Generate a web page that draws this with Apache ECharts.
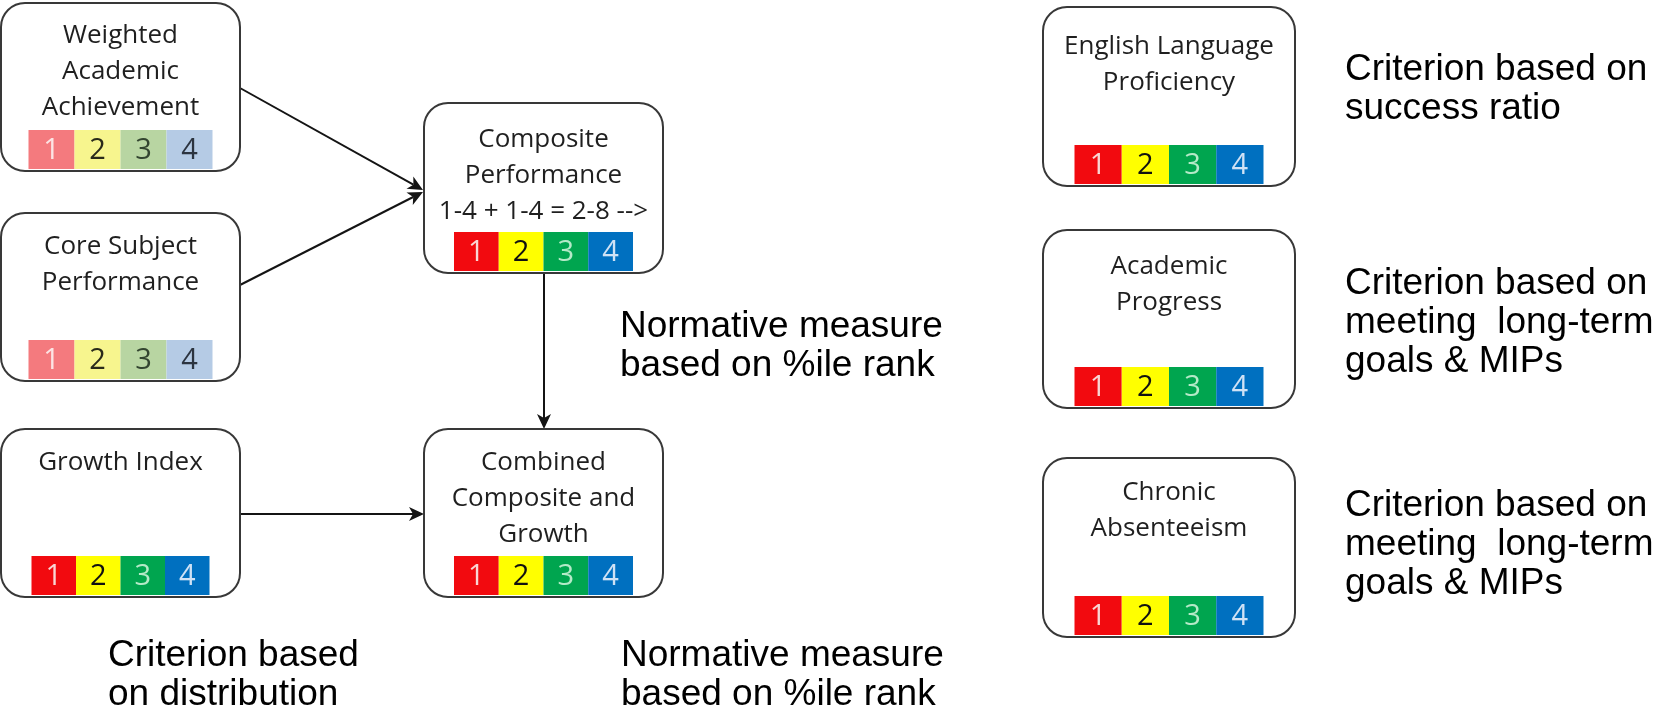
<!DOCTYPE html>
<html><head><meta charset="utf-8">
<script src="https://cdn.jsdelivr.net/npm/echarts@6/dist/echarts.min.js"></script>
<style>html,body{margin:0;padding:0;background:#fff}#main{width:1656px;height:714px}</style>
</head><body><div id="main"></div>
<script>
// ---------- data ----------
const boxTitles = [
  ['Weighted', 'Academic', 'Achievement'],
  ['Core Subject', 'Performance'],
  ['Growth Index'],
  ['Composite', 'Performance', '1-4 + 1-4 = 2-8 -->'],
  ['Combined', 'Composite and', 'Growth'],
  ['English Language', 'Proficiency'],
  ['Academic', 'Progress'],
  ['Chronic', 'Absenteeism']
];
const ratingLevels = ['1', '2', '3', '4'];
const boxFaded = [true, true, false, false, false, false, false, false];
const linkFrom = [0, 1, 2, 3];
const linkTo = [3, 3, 4, 4];
const noteTexts = [
  ['Normative measure', 'based on %ile rank'],
  ['Criterion based', 'on distribution'],
  ['Normative measure', 'based on %ile rank'],
  ['Criterion based on', 'success ratio'],
  ['Criterion based on', 'meeting  long-term', 'goals & MIPs'],
  ['Criterion based on', 'meeting  long-term', 'goals & MIPs']
];

// ---------- layout (diagram units) ----------
const boxLeft = [1, 1, 1, 424, 424, 1043, 1043, 1043];
const boxTop = [3, 213, 429, 103, 429, 7, 230, 458];
const boxWidth = [239, 239, 239, 239, 239, 252, 252, 252];
const boxHeight = [168, 168, 168, 170, 168, 179, 178, 179];
const barWidth = [184, 184, 178, 179, 179, 189, 189, 189];
const barHeight = 39;
const titleOffset = [33, 34, 34, 37, 34, 40, 37, 35];
const titleLineGap = 36;
const linkStart = [[240, 88], [240, 285], [240, 514], [544, 273]];
const linkEnd = [[423, 190], [423, 192], [424, 514], [544, 429]];
const noteLeft = [620, 108, 621, 1345, 1345, 1345];
const noteTop = [327, 656, 656, 70, 284, 506];
const noteLineGap = 39;

// ---------- styles ----------
const brightFill = ['#F20A0F', '#FFFF00', '#00A54F', '#0070C0'];
const brightText = ['#F9D6D4', '#111111', '#B5EAC8', '#CFE2F5'];
const fadedFill = ['#F47A7E', '#F7F58E', '#B8D5A2', '#B5CBE5'];
const fadedText = ['#FCE4E4', '#2A2A1A', '#334530', '#2C3440'];
const titleFont = '26px "Open Sans", sans-serif';
const digitFont = '29px "Open Sans", sans-serif';
const noteFont = '37px "Liberation Sans", Arial, sans-serif';

function txt(x, y, text, font, fill, align) {
  return {
    type: 'text',
    style: {
      x: x, y: y, text: text, font: font, fill: fill,
      align: align, verticalAlign: 'middle',
      textAlign: align, textVerticalAlign: 'middle'
    }
  };
}

function renderBox(params, api) {
  const i = api.value(0);
  const tl = api.coord([boxLeft[i], boxTop[i]]);
  const br = api.coord([boxLeft[i] + boxWidth[i], boxTop[i] + boxHeight[i]]);
  const children = [];
  children.push({
    type: 'rect',
    shape: { x: tl[0], y: tl[1], width: br[0] - tl[0], height: br[1] - tl[1], r: 24 },
    style: { fill: '#ffffff', stroke: '#383838', lineWidth: 2 }
  });
  const cx = boxLeft[i] + boxWidth[i] / 2;
  boxTitles[i].forEach(function (line, k) {
    const p = api.coord([cx, boxTop[i] + titleOffset[i] + k * titleLineGap]);
    children.push(txt(p[0], p[1], line, titleFont, '#1f1f1f', 'center'));
  });
  const bx0 = cx - barWidth[i] / 2;
  const by1 = boxTop[i] + boxHeight[i] - 2;
  const by0 = by1 - barHeight;
  const cw = barWidth[i] / ratingLevels.length;
  ratingLevels.forEach(function (lv, k) {
    const a = api.coord([bx0 + k * cw, by0]);
    const b = api.coord([bx0 + (k + 1) * cw, by1]);
    children.push({
      type: 'rect',
      shape: { x: a[0], y: a[1], width: b[0] - a[0], height: b[1] - a[1] },
      style: { fill: (boxFaded[i] ? fadedFill : brightFill)[k] }
    });
    children.push(txt((a[0] + b[0]) / 2, (a[1] + b[1]) / 2 + 1, lv, digitFont,
      (boxFaded[i] ? fadedText : brightText)[k], 'center'));
  });
  return { type: 'group', children: children };
}

function renderLink(params, api) {
  const i = api.value(0);
  const p1 = api.coord(linkStart[i]);
  const p2 = api.coord(linkEnd[i]);
  const dx = p2[0] - p1[0], dy = p2[1] - p1[1];
  const len = Math.sqrt(dx * dx + dy * dy);
  const ux = dx / len, uy = dy / len;
  const nx = -uy, ny = ux;
  const hl = 15, hw = 7, notch = 4;
  const base = [p2[0] - ux * hl, p2[1] - uy * hl];
  const back = [p2[0] - ux * (hl - notch), p2[1] - uy * (hl - notch)];
  return {
    type: 'group',
    children: [
      {
        type: 'line',
        shape: { x1: p1[0], y1: p1[1], x2: back[0], y2: back[1] },
        style: { stroke: '#141414', lineWidth: 2 }
      },
      {
        type: 'polygon',
        shape: { points: [
          p2,
          [base[0] + nx * hw, base[1] + ny * hw],
          back,
          [base[0] - nx * hw, base[1] - ny * hw]
        ] },
        style: { fill: '#141414' }
      }
    ]
  };
}

function renderNote(params, api) {
  const i = api.value(0);
  const children = noteTexts[i].map(function (line, k) {
    const p = api.coord([noteLeft[i], noteTop[i] + k * noteLineGap]);
    return txt(p[0], p[1], line, noteFont, '#000000', 'left');
  });
  return { type: 'group', children: children };
}

const chart = echarts.init(document.getElementById('main'), null, { renderer: 'canvas' });
chart.setOption({
  backgroundColor: '#ffffff',
  animation: false,
  grid: { left: 0, right: 0, top: 0, bottom: 0 },
  xAxis: { type: 'value', min: 0, max: 1656, show: false },
  yAxis: { type: 'value', min: 0, max: 714, inverse: true, show: false },
  series: [
    {
      type: 'custom', name: 'links', clip: false,
      data: linkFrom.map(function (f, i) { return [i, f, linkTo[i]]; }),
      renderItem: renderLink
    },
    {
      type: 'custom', name: 'boxes', clip: false,
      data: boxTitles.map(function (t, i) { return [i]; }),
      renderItem: renderBox
    },
    {
      type: 'custom', name: 'notes', clip: false,
      data: noteTexts.map(function (t, i) { return [i]; }),
      renderItem: renderNote
    }
  ]
});
</script>
</body></html>
